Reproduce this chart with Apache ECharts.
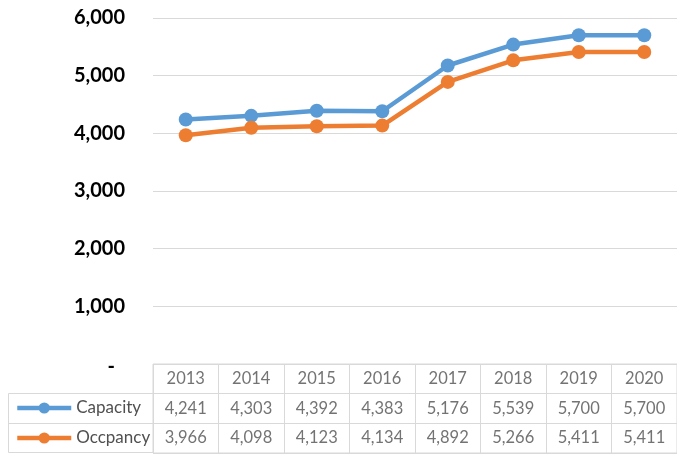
<!DOCTYPE html>
<html>
<head>
<meta charset="utf-8">
<script src="https://cdn.jsdelivr.net/npm/echarts@6/dist/echarts.min.js"></script>
<style>
  html, body { margin: 0; padding: 0; background: #fff; }
  #main { width: 677px; height: 455px; }
</style>
</head>
<body>
<div id="main"></div>
<script>
// data
const years = ['2013', '2014', '2015', '2016', '2017', '2018', '2019', '2020']
const capacity = [4241, 4303, 4392, 4383, 5176, 5539, 5700, 5700]
const occupancy = [3966, 4098, 4123, 4134, 4892, 5266, 5411, 5411]
const tableRows = ['header', 'Capacity', 'Occpancy']

const BLUE = '#5B9BD5'
const ORANGE = '#ED7D31'
const BORDER = '#d9d9d9'
const TEXT = '#505050'
const fmt = v => v.toLocaleString('en-US')

// table cells, built from the arrays
const tableCells = []
years.forEach((y, i) => {
  tableCells.push([i, 0, y])
  tableCells.push([i, 1, fmt(capacity[i])])
  tableCells.push([i, 2, fmt(occupancy[i])])
})

const myChart = echarts.init(document.getElementById('main'), null, { renderer: 'canvas' })

myChart.setOption({
  animation: false,
  backgroundColor: '#fff',
  textStyle: { fontFamily: 'Lato' },
  grid: [
    { left: 153, right: -7, top: 18, bottom: 91 },
    { left: 153, right: -7, top: 364, height: 89, show: true, borderColor: BORDER, borderWidth: 1 }
  ],
  xAxis: [
    {
      gridIndex: 0, type: 'category', data: years, boundaryGap: true,
      axisLine: { show: false }, axisTick: { show: false }, axisLabel: { show: false }
    },
    {
      gridIndex: 1, type: 'category', data: years, boundaryGap: true,
      axisLine: { show: false }, axisTick: { show: false }, axisLabel: { show: false },
      splitLine: { show: true, interval: 0, lineStyle: { color: BORDER, width: 1 } }
    }
  ],
  yAxis: [
    {
      gridIndex: 0, type: 'value', min: 0, max: 6000, interval: 1000,
      axisLine: { show: false }, axisTick: { show: false },
      splitLine: { lineStyle: { color: BORDER, width: 1 } },
      axisLabel: {
        margin: 28,
        color: '#000',
        fontFamily: 'Lato',
        fontWeight: 'bold',
        fontSize: 20,
        formatter: v => v === 0 ? '{d|-}' : fmt(v),
        rich: { d: { fontFamily: 'Lato', fontWeight: 'bold', fontSize: 20, color: '#000', padding: [6, 10, 0, 0] } }
      }
    },
    {
      gridIndex: 1, type: 'category', data: tableRows, inverse: true, boundaryGap: true,
      axisLine: { show: false }, axisTick: { show: false }, axisLabel: { show: false },
      splitLine: { show: true, interval: 0, lineStyle: { color: BORDER, width: 1 } }
    }
  ],
  legend: {
    data: ['Capacity', 'Occpancy'],
    orient: 'vertical',
    left: 15,
    top: 398,
    padding: 0,
    itemWidth: 54,
    itemHeight: 14,
    itemGap: 10,
    lineStyle: { width: 4.5 },
    textStyle: { color: TEXT, fontSize: 17, lineHeight: 20, fontFamily: 'Lato' }
  },
  graphic: [
    {
      type: 'rect', silent: true,
      shape: { x: 8.5, y: 393.5, width: 145, height: 59 },
      style: { fill: 'none', stroke: BORDER, lineWidth: 1 }
    },
    {
      type: 'line', silent: true,
      shape: { x1: 8.5, y1: 423.5, x2: 153.5, y2: 423.5 },
      style: { stroke: BORDER, lineWidth: 1 }
    }
  ],
  series: [
    {
      name: 'Capacity', type: 'line', xAxisIndex: 0, yAxisIndex: 0,
      data: capacity, color: BLUE,
      symbol: 'circle', symbolSize: 14,
      lineStyle: { width: 4.5, color: BLUE },
      itemStyle: { color: BLUE }
    },
    {
      name: 'Occpancy', type: 'line', xAxisIndex: 0, yAxisIndex: 0,
      data: occupancy, color: ORANGE,
      symbol: 'circle', symbolSize: 14,
      lineStyle: { width: 4.5, color: ORANGE },
      itemStyle: { color: ORANGE }
    },
    {
      name: 'table', type: 'scatter', xAxisIndex: 1, yAxisIndex: 1,
      data: tableCells, symbolSize: 0, silent: true,
      label: {
        show: true, position: 'inside',
        formatter: p => p.value[2],
        color: TEXT, fontSize: 16.5, fontFamily: 'Lato'
      }
    }
  ]
})
</script>
</body>
</html>
